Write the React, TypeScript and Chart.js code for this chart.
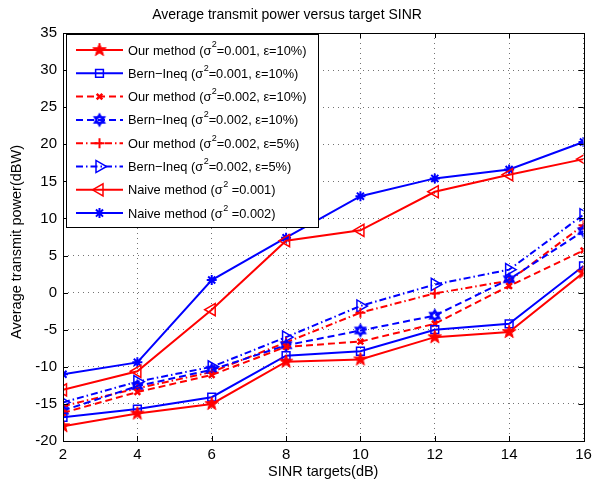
import React, { useEffect, useRef } from 'react';
import { Chart, registerables } from 'chart.js';
import { drawPoint } from 'chart.js/helpers';

Chart.register(...registerables);

const sinrTargets = [2, 4, 6, 8, 10, 12, 14, 16];
const ourMethod001e10 = [-18.0, -16.3, -15.0, -9.3, -9.0, -6.0, -5.3, 2.7];
const bernIneq001e10 = [-16.8, -15.7, -14.1, -8.5, -7.9, -5.0, -4.2, 3.6];
const ourMethod002e10 = [-16.2, -13.4, -11.1, -7.3, -6.6, -4.2, 0.9, 5.7];
const bernIneq002e10 = [-15.9, -12.6, -10.4, -7.1, -5.1, -3.1, 1.8, 8.3];
const ourMethod002e5 = [-15.3, -12.9, -10.7, -6.7, -2.7, -0.1, 1.6, 9.1];
const bernIneq002e5 = [-14.8, -12.0, -10.0, -6.0, -1.8, 1.1, 3.1, 10.5];
const naive001 = [-13.1, -10.6, -2.3, 7.0, 8.4, 13.6, 15.9, 18.0];
const naive002 = [-11.0, -9.4, 1.7, 7.4, 13.0, 15.4, 16.6, 20.3];

const xMin = 2, xMax = 16, xStep = 2;
const yMin = -20, yMax = 35, yStep = 5;

const titleText = 'Average transmit power versus target SINR';
const xTitle = 'SINR targets(dB)';
const yTitle = 'Average transmit power(dBW)';

// legend labels: [before superscript, superscript, after]
const legendLabels: [string, string, string][] = [
  ['Our method (σ', '2', '=0.001, ε=10%)'],
  ['Bern−Ineq (σ', '2', '=0.001, ε=10%)'],
  ['Our method (σ', '2', '=0.002, ε=10%)'],
  ['Bern−Ineq (σ', '2', '=0.002, ε=10%)'],
  ['Our method (σ', '2', '=0.002, ε=5%)'],
  ['Bern−Ineq (σ', '2', '=0.002, ε=5%)'],
  ['Naive method (σ', '2', ' =0.001)'],
  ['Naive method (σ', '2', ' =0.002)'],
];

const FONT = '"Liberation Sans", Arial, Helvetica, sans-serif';
const RED = '#ff0000';
const BLUE = '#0000ff';

function makeStar(color: string): HTMLCanvasElement {
  const c = document.createElement('canvas');
  c.width = 16; c.height = 16;
  const ctx = c.getContext('2d')!;
  const R = 7, r = 2.8;
  ctx.beginPath();
  for (let i = 0; i < 10; i++) {
    const a = -Math.PI / 2 + (i * Math.PI) / 5;
    const rad = i % 2 === 0 ? R : r;
    const px = 8 + rad * Math.cos(a), py = 8 + rad * Math.sin(a);
    if (i === 0) ctx.moveTo(px, py); else ctx.lineTo(px, py);
  }
  ctx.closePath();
  ctx.fillStyle = color;
  ctx.fill();
  ctx.strokeStyle = color;
  ctx.lineWidth = 1;
  ctx.stroke();
  return c;
}

function makeHexagram(color: string): HTMLCanvasElement {
  const c = document.createElement('canvas');
  c.width = 16; c.height = 16;
  const ctx = c.getContext('2d')!;
  const R = 5.5;
  ctx.strokeStyle = color;
  ctx.lineWidth = 2;
  for (const off of [-Math.PI / 2, Math.PI / 2]) {
    ctx.beginPath();
    for (let i = 0; i < 3; i++) {
      const a = off + (i * 2 * Math.PI) / 3;
      const px = 8 + R * Math.cos(a), py = 8 + R * Math.sin(a);
      if (i === 0) ctx.moveTo(px, py); else ctx.lineTo(px, py);
    }
    ctx.closePath();
    ctx.stroke();
  }
  return c;
}

function toPoints(vals: number[]) {
  return sinrTargets.map((x, i) => ({ x, y: vals[i] }));
}

export default function App() {
  const ref = useRef<HTMLCanvasElement>(null);

  useEffect(() => {
    const star = makeStar(RED);
    const hex = makeHexagram(BLUE);
    const none = 'rgba(0,0,0,0)';
    const datasets: any[] = [
      { data: toPoints(ourMethod001e10), borderColor: RED, backgroundColor: RED, borderDash: [], pointStyle: star, pointRadius: 7, rotation: 0, pointBorderWidth: 1 },
      { data: toPoints(bernIneq001e10), borderColor: BLUE, backgroundColor: none, borderDash: [], pointStyle: 'rect', pointRadius: 5.5, rotation: 0, pointBorderWidth: 1.5 },
      { data: toPoints(ourMethod002e10), borderColor: RED, backgroundColor: none, borderDash: [7, 4], pointStyle: 'crossRot', pointRadius: 4, rotation: 0, pointBorderWidth: 2.5 },
      { data: toPoints(bernIneq002e10), borderColor: BLUE, backgroundColor: none, borderDash: [7, 4], pointStyle: hex, pointRadius: 6, rotation: 0, pointBorderWidth: 1 },
      { data: toPoints(ourMethod002e5), borderColor: RED, backgroundColor: none, borderDash: [7, 3, 1.5, 3], pointStyle: 'cross', pointRadius: 5, rotation: 0, pointBorderWidth: 2 },
      { data: toPoints(bernIneq002e5), borderColor: BLUE, backgroundColor: none, borderDash: [7, 3, 1.5, 3], pointStyle: 'triangle', pointRadius: 7, rotation: 90, pointBorderWidth: 1.5 },
      { data: toPoints(naive001), borderColor: RED, backgroundColor: none, borderDash: [], pointStyle: 'triangle', pointRadius: 7, rotation: -90, pointBorderWidth: 1.5 },
      { data: toPoints(naive002), borderColor: BLUE, backgroundColor: BLUE, borderDash: [], pointStyle: 'star', pointRadius: 5, rotation: 0, pointBorderWidth: 2 },
    ].map((d) => ({
      ...d,
      borderWidth: 2,
      pointBorderColor: d.borderColor,
      pointBackgroundColor: d.backgroundColor,
      pointRotation: d.rotation,
      pointHoverRadius: d.pointRadius,
      tension: 0,
      fill: false,
    }));

    const decorPlugin = {
      id: 'decor',
      afterDraw(chart: any) {
        const ctx: CanvasRenderingContext2D = chart.ctx;
        const { left, right, top, bottom } = chart.chartArea;
        const xs = chart.scales.x;
        const ys = chart.scales.y;
        ctx.save();
        // box
        ctx.strokeStyle = '#000';
        ctx.lineWidth = 1;
        ctx.strokeRect(Math.round(left) + 0.5, Math.round(top) + 0.5, Math.round(right - left), Math.round(bottom - top));
        // inside ticks
        ctx.beginPath();
        for (let v = xMin; v <= xMax; v += xStep) {
          const px = Math.round(xs.getPixelForValue(v)) + 0.5;
          ctx.moveTo(px, bottom); ctx.lineTo(px, bottom - 5);
          ctx.moveTo(px, top); ctx.lineTo(px, top + 5);
        }
        for (let v = yMin; v <= yMax; v += yStep) {
          const py = Math.round(ys.getPixelForValue(v)) + 0.5;
          ctx.moveTo(left, py); ctx.lineTo(left + 5, py);
          ctx.moveTo(right, py); ctx.lineTo(right - 5, py);
        }
        ctx.stroke();
        // title
        ctx.fillStyle = '#000';
        ctx.font = `14px ${FONT}`;
        ctx.textAlign = 'center';
        ctx.textBaseline = 'middle';
        ctx.fillText(titleText, 287, 15);
        // y-axis title
        ctx.save();
        ctx.translate(17, 242);
        ctx.rotate(-Math.PI / 2);
        ctx.font = `14.5px ${FONT}`;
        ctx.fillText(yTitle, 0, 0);
        ctx.restore();

        // legend
        const bx = 66, by = 34, bw = 252, bh = 193;
        ctx.fillStyle = '#fff';
        ctx.fillRect(bx, by, bw, bh);
        ctx.strokeStyle = '#000';
        ctx.lineWidth = 1;
        ctx.strokeRect(bx + 0.5, by + 0.5, bw, bh);
        chart.data.datasets.forEach((ds: any, i: number) => {
          const cy = 50 + i * 23.3;
          ctx.save();
          ctx.strokeStyle = ds.borderColor;
          ctx.lineWidth = 2;
          ctx.setLineDash(ds.borderDash || []);
          ctx.beginPath();
          ctx.moveTo(76, cy);
          ctx.lineTo(123, cy);
          ctx.stroke();
          ctx.setLineDash([]);
          ctx.fillStyle = ds.pointBackgroundColor;
          ctx.strokeStyle = ds.pointBorderColor;
          ctx.lineWidth = ds.pointBorderWidth;
          drawPoint(ctx, { pointStyle: ds.pointStyle, rotation: ds.pointRotation, radius: ds.pointRadius, borderWidth: ds.pointBorderWidth } as any, 99.5, cy);
          ctx.restore();
          const [a, sup, b] = legendLabels[i];
          ctx.fillStyle = '#000';
          ctx.textAlign = 'left';
          ctx.textBaseline = 'middle';
          ctx.font = `12.8px ${FONT}`;
          let tx = 128;
          ctx.fillText(a, tx, cy + 1);
          tx += ctx.measureText(a).width;
          ctx.font = `9px ${FONT}`;
          ctx.fillText(sup, tx + 0.5, cy - 5);
          tx += ctx.measureText(sup).width + 0.5;
          ctx.font = `12.8px ${FONT}`;
          ctx.fillText(b, tx, cy + 1);
        });
        ctx.restore();
      },
    };

    const chart = new Chart(ref.current!, {
      type: 'line',
      data: { datasets },
      options: {
        responsive: false,
        animation: false,
        events: [],
        layout: { padding: { top: 33, right: 6, left: 0, bottom: 0 } },
        plugins: { legend: { display: false }, title: { display: false }, tooltip: { enabled: false } },
        scales: {
          x: {
            type: 'linear',
            min: xMin,
            max: xMax,
            afterFit: (s: any) => { s.height = 46; s.paddingLeft = 0; s.paddingRight = 0; },
            ticks: { stepSize: xStep, color: '#000', font: { size: 15, family: FONT }, padding: 5, maxRotation: 0 },
            grid: { color: 'rgba(0,0,0,0.55)', lineWidth: 1, drawTicks: false },
            border: { display: false, dash: [1, 4] },
            title: { display: true, text: xTitle, color: '#000', font: { size: 14.5, family: FONT }, padding: { top: 0, bottom: 6 } },
          },
          y: {
            type: 'linear',
            min: yMin,
            max: yMax,
            afterFit: (s: any) => { s.width = 63; s.paddingTop = 0; s.paddingBottom = 0; },
            ticks: { stepSize: yStep, color: '#000', font: { size: 15, family: FONT }, padding: 6 },
            grid: { color: 'rgba(0,0,0,0.55)', lineWidth: 1, drawTicks: false },
            border: { display: false, dash: [1, 4] },
            title: { display: false, text: yTitle },
          },
        },
      },
      plugins: [decorPlugin],
    } as any);
    return () => chart.destroy();
  }, []);

  return (
    <div style={{ position: 'fixed', left: 0, top: 0, width: 592, height: 487, background: '#fff' }}>
      <canvas ref={ref} width={592} height={487} style={{ display: 'block' }} />
    </div>
  );
}
